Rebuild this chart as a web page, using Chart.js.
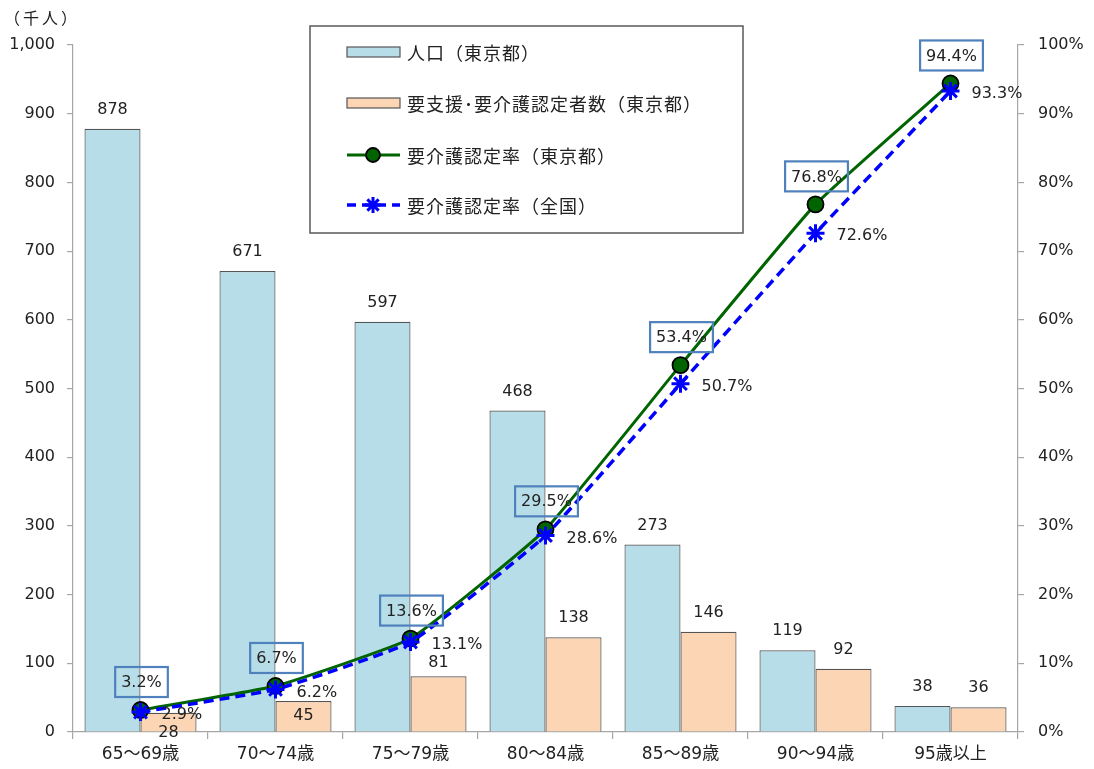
<!DOCTYPE html>
<html>
<head>
<meta charset="utf-8">
<script src="https://cdn.jsdelivr.net/npm/chart.js@4/dist/chart.umd.min.js"></script>
<style>
html,body{margin:0;padding:0;background:#fff;}
#wrap{width:1094px;height:769px;}
</style>
</head>
<body>
<div id="wrap"><canvas id="c" width="1094" height="769"></canvas></div>
<script>
const categories = ['65〜69歳','70〜74歳','75〜79歳','80〜84歳','85〜89歳','90〜94歳','95歳以上'];
const population = [878, 671, 597, 468, 273, 119, 38];
const certified = [28, 45, 81, 138, 146, 92, 36];
const rateTokyo = [3.2, 6.7, 13.6, 29.5, 53.4, 76.8, 94.4];
const rateNational = [2.9, 6.2, 13.1, 28.6, 50.7, 72.6, 93.3];
const leftTicksMax = 1000;
const rightTicksMax = 100;
const seriesNames = ['人口（東京都）','要支援･要介護認定者数（東京都）','要介護認定率（東京都）','要介護認定率（全国）'];
const yTitle = '（千人）';

// label vertical offsets (style only)
const popLabelDy = [-19,-19,-19,-19,-19,-19,-19];
const certLabelDy = [20, 15, -14, -19, -19, -19, -19];

const NUM_FONT = '16px "DejaVu Sans", "Noto Sans CJK JP", sans-serif';
const LEG_FONT = '18px "Noto Sans CJK JP", sans-serif';
const TXT = '#222';
const AXIS = '#a6a6a6';
const C_POP = '#B7DEE8', C_CERT = '#FCD5B5', C_GREEN = '#006400', C_BLUE = '#0000FF', C_BAR_BORDER = '#555';

const overlay = {
  id: 'overlay',
  afterDatasetsDraw(chart) {
    const ctx = chart.ctx;
    ctx.save();
    ctx.font = NUM_FONT;
    ctx.fillStyle = TXT;
    ctx.textAlign = 'center';
    ctx.textBaseline = 'middle';
    chart.getDatasetMeta(0).data.forEach((el, i) => {
      ctx.fillText(String(population[i]), el.x, el.y + popLabelDy[i]);
    });
    chart.getDatasetMeta(1).data.forEach((el, i) => {
      ctx.fillText(String(certified[i]), el.x, el.y + certLabelDy[i]);
    });
    ctx.textAlign = 'left';
    chart.getDatasetMeta(3).data.forEach((el, i) => {
      ctx.fillText(rateNational[i].toFixed(1) + '%', el.x + 21, el.y + 3);
    });
    ctx.textAlign = 'center';
    chart.getDatasetMeta(2).data.forEach((el, i) => {
      const t = rateTokyo[i].toFixed(1) + '%';
      const w = ctx.measureText(t).width + 12;
      const h = 30;
      const cx = el.x + 1, cy = el.y - 28;
      ctx.strokeStyle = '#4F81BD';
      ctx.lineWidth = 2.2;
      ctx.strokeRect(cx - w/2, cy - h/2, w, h);
      ctx.fillStyle = TXT;
      ctx.fillText(t, cx, cy + 1);
    });
    ctx.restore();
  },
  afterDraw(chart) {
    const ctx = chart.ctx;
    ctx.save();
    ctx.font = '16px "Noto Sans CJK JP", sans-serif';
    ctx.fillStyle = TXT;
    ctx.textAlign = 'left';
    ctx.textBaseline = 'middle';
    ctx.letterSpacing = '3px';
    ctx.fillText(yTitle, 4, 18);
    ctx.letterSpacing = '0px';
    const bx = 310, by = 26, bw = 433, bh = 207;
    ctx.fillStyle = '#fff';
    ctx.fillRect(bx, by, bw, bh);
    ctx.strokeStyle = '#595959';
    ctx.lineWidth = 1.5;
    ctx.strokeRect(bx, by, bw, bh);
    const rows = [52, 103, 155, 205];
    const sx0 = 347, sx1 = 400, mid = 373;
    ctx.fillStyle = C_POP; ctx.strokeStyle = C_BAR_BORDER; ctx.lineWidth = 1.2;
    ctx.fillRect(sx0, rows[0]-5, sx1-sx0, 10); ctx.strokeRect(sx0, rows[0]-5, sx1-sx0, 10);
    ctx.fillStyle = C_CERT;
    ctx.fillRect(sx0, rows[1]-5, sx1-sx0, 10); ctx.strokeRect(sx0, rows[1]-5, sx1-sx0, 10);
    ctx.strokeStyle = C_GREEN; ctx.lineWidth = 3;
    ctx.beginPath(); ctx.moveTo(sx0, rows[2]); ctx.lineTo(sx1, rows[2]); ctx.stroke();
    ctx.beginPath(); ctx.arc(mid, rows[2], 7, 0, Math.PI*2);
    ctx.fillStyle = C_GREEN; ctx.fill(); ctx.strokeStyle = '#000'; ctx.lineWidth = 1.8; ctx.stroke();
    ctx.strokeStyle = C_BLUE; ctx.lineWidth = 3.5; ctx.setLineDash([9,6]);
    ctx.beginPath(); ctx.moveTo(sx0, rows[3]); ctx.lineTo(sx1, rows[3]); ctx.stroke();
    ctx.setLineDash([]);
    const r = 8; ctx.lineWidth = 3;
    ctx.beginPath();
    ctx.moveTo(mid - r, rows[3]); ctx.lineTo(mid + r, rows[3]);
    ctx.moveTo(mid, rows[3] - r); ctx.lineTo(mid, rows[3] + r);
    const d = r * 0.7071;
    ctx.moveTo(mid - d, rows[3] - d); ctx.lineTo(mid + d, rows[3] + d);
    ctx.moveTo(mid - d, rows[3] + d); ctx.lineTo(mid + d, rows[3] - d);
    ctx.stroke();
    ctx.font = LEG_FONT;
    ctx.letterSpacing = '1px';
    ctx.fillStyle = TXT;
    ctx.textAlign = 'left';
    ctx.textBaseline = 'middle';
    seriesNames.forEach((n, i) => ctx.fillText(n, 407, rows[i] + 1));
    ctx.restore();
  }
};

new Chart(document.getElementById('c'), {
  type: 'bar',
  data: {
    labels: categories,
    datasets: [
      { type: 'bar', label: seriesNames[0], data: population, yAxisID: 'y',
        backgroundColor: C_POP, borderColor: C_BAR_BORDER, borderWidth: 1.2,
        categoryPercentage: 0.83, barPercentage: 1.0, order: 2 },
      { type: 'bar', label: seriesNames[1], data: certified, yAxisID: 'y',
        backgroundColor: C_CERT, borderColor: C_BAR_BORDER, borderWidth: 1.2,
        categoryPercentage: 0.83, barPercentage: 1.0, order: 3 },
      { type: 'line', label: seriesNames[2], data: rateTokyo, yAxisID: 'y1',
        borderColor: C_GREEN, borderWidth: 3, tension: 0.12, fill: false,
        pointStyle: 'circle', pointRadius: 8, pointBackgroundColor: C_GREEN,
        pointBorderColor: '#000', pointBorderWidth: 1.8, order: 1 },
      { type: 'line', label: seriesNames[3], data: rateNational, yAxisID: 'y1',
        borderColor: C_BLUE, borderWidth: 3.5, borderDash: [10,6], tension: 0.12, fill: false,
        pointStyle: 'star', pointRadius: 9, pointBackgroundColor: C_BLUE,
        pointBorderColor: C_BLUE, pointBorderWidth: 3, order: 0 }
    ]
  },
  options: {
    responsive: false,
    animation: false,
    layout: { padding: { top: 45, left: 0, right: 0, bottom: 0 } },
    plugins: { legend: { display: false }, tooltip: { enabled: false } },
    scales: {
      x: {
        offset: true,
        grid: { display: true, drawOnChartArea: false, offset: true, tickLength: 7, color: AXIS, lineWidth: 1.2 },
        border: { color: AXIS, width: 1.2 },
        ticks: { font: { family: '"DejaVu Sans", "Noto Sans CJK JP", sans-serif', size: 17 }, color: TXT, padding: 5, maxRotation: 0 },
        afterFit: s => { s.height = 37; }
      },
      y: {
        position: 'left', min: 0, max: leftTicksMax,
        grid: { display: true, drawOnChartArea: false, tickLength: 6, color: AXIS, lineWidth: 1.2 },
        border: { color: AXIS, width: 1.2 },
        ticks: { stepSize: 100, font: { family: '"DejaVu Sans", sans-serif', size: 16 }, color: TXT, padding: 12,
          callback: v => v.toLocaleString('en-US') },
        afterFit: s => { s.width = 73; }
      },
      y1: {
        position: 'right', min: 0, max: rightTicksMax,
        grid: { display: true, drawOnChartArea: false, tickLength: 6, color: AXIS, lineWidth: 1.2 },
        border: { color: AXIS, width: 1.2 },
        ticks: { stepSize: 10, font: { family: '"DejaVu Sans", sans-serif', size: 16 }, color: TXT, padding: 14,
          callback: v => v + '%' },
        afterFit: s => { s.width = 76; }
      }
    }
  },
  plugins: [overlay]
});
</script>
</body>
</html>
